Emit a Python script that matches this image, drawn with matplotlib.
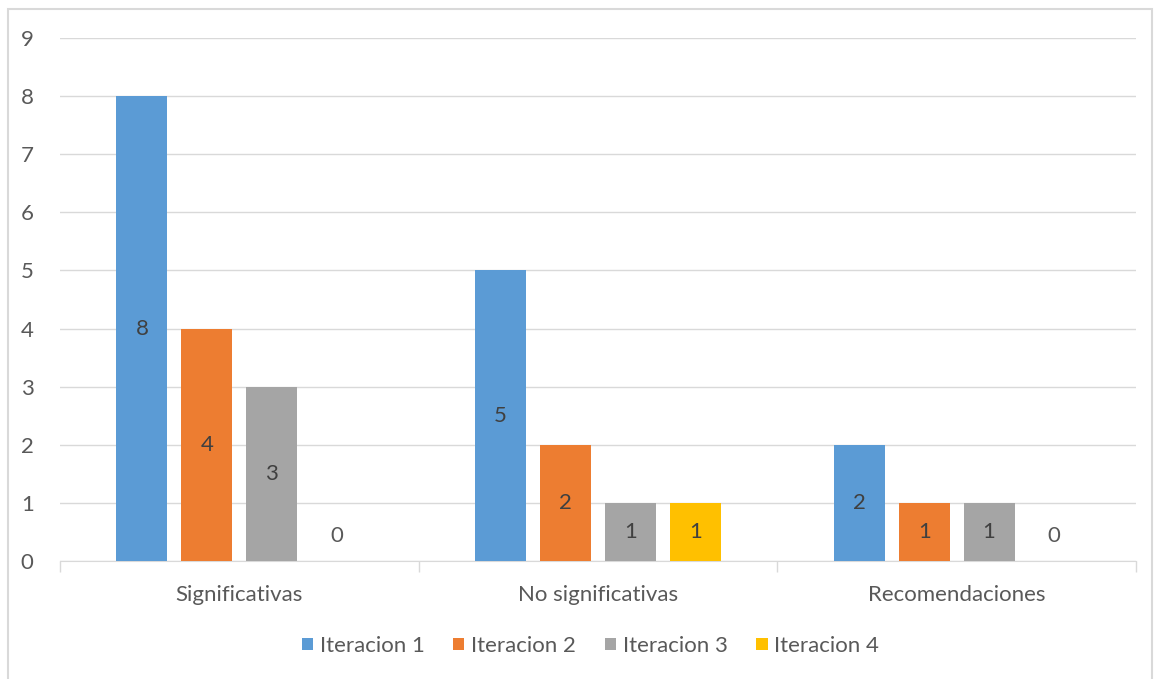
import matplotlib.pyplot as plt
import numpy as np
from matplotlib.patches import Rectangle

categories = ["Significativas", "No significativas", "Recomendaciones"]
series = ["Iteracion 1", "Iteracion 2", "Iteracion 3", "Iteracion 4"]
iter1 = [8, 5, 2]
iter2 = [4, 2, 1]
iter3 = [3, 1, 1]
iter4 = [0, 1, 0]
values = [iter1, iter2, iter3, iter4]
colors = ["#5B9BD5", "#ED7D31", "#A5A5A5", "#FFC000"]
text_col = "#595959"

plt.rcParams["font.family"] = ["Lato", "DejaVu Sans"]

fig = plt.figure(figsize=(11.59, 6.79), dpi=100)
ax = fig.add_axes([60 / 1159, 1 - 561 / 679, 1076 / 1159, 523 / 679])

# chart border
fig.patches.append(Rectangle((8 / 1159, -0.05), 1144 / 1159, 1 - 9 / 679 + 0.05,
                             transform=fig.transFigure, fill=False,
                             edgecolor="#d9d9d9", lw=1.5))

x = np.arange(len(categories))
w = 0.142
step = 0.181
for i, (name, vals) in enumerate(zip(series, values)):
    pos = x + (i - 1.5) * step
    ax.bar(pos, vals, width=w, color=colors[i], label=name, zorder=3)
    for p, v in zip(pos, vals):
        y = v / 2 if v > 0 else 0.43
        ax.text(p, y, str(v), ha="center", va="center", fontsize=16,
                color="#404040" if v > 0 else text_col, zorder=4)

ax.set_xlim(-0.5, 2.5)
ax.set_ylim(0, 9)
ax.set_yticks(range(10))
ax.yaxis.grid(True, color="#d9d9d9", lw=1, zorder=0)
ax.set_xticks(x)
ax.set_xticklabels(categories)
ax.set_xticks([-0.5, 0.5, 1.5, 2.5], minor=True)
ax.tick_params(axis="x", which="major", length=0, pad=17, labelsize=16, labelcolor=text_col)
ax.tick_params(axis="x", which="minor", length=8, color="#d9d9d9", width=1)
ax.tick_params(axis="y", length=0, pad=19, labelsize=16, labelcolor=text_col)
for s in ["top", "right", "left"]:
    ax.spines[s].set_visible(False)
ax.spines["bottom"].set_color("#d9d9d9")
ax.spines["bottom"].set_zorder(2)

ax.legend(loc="center", bbox_to_anchor=(0.493, -0.162), ncol=4, frameon=False,
          fontsize=16, labelcolor=text_col, handlelength=0.5, handleheight=0.5,
          handletextpad=0.3, columnspacing=1.3)

fig.savefig("out.png", dpi=100)
